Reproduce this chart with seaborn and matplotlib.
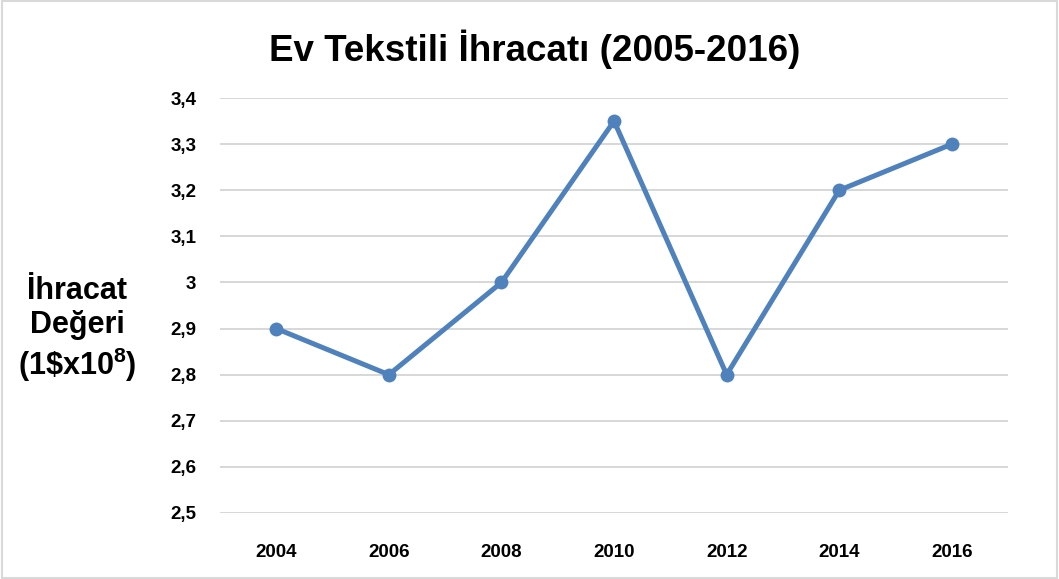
import pandas as pd
import matplotlib.pyplot as plt
import seaborn as sns
from matplotlib.patches import Rectangle
from matplotlib.ticker import FuncFormatter

# Data
years = ["2004", "2006", "2008", "2010", "2012", "2014", "2016"]
values = [2.9, 2.8, 3.0, 3.35, 2.8, 3.2, 3.3]
y_ticks = [2.5, 2.6, 2.7, 2.8, 2.9, 3.0, 3.1, 3.2, 3.3, 3.4]

df = pd.DataFrame({"year": years, "value": values})

sns.set_style("white")
plt.rcParams['font.family'] = ['Liberation Sans', 'DejaVu Sans']
plt.rcParams['mathtext.fontset'] = 'custom'
plt.rcParams['mathtext.rm'] = 'Liberation Sans:bold'
plt.rcParams['mathtext.bf'] = 'Liberation Sans:bold'
plt.rcParams['text.color'] = 'black'
plt.rcParams['xtick.color'] = 'black'
plt.rcParams['ytick.color'] = 'black'

fig = plt.figure(figsize=(10.59, 5.79), dpi=100)
ax = fig.add_axes([0.2077, 0.114, 0.7443, 0.7167])

sns.lineplot(data=df, x="year", y="value", ax=ax, color="#4F81BD",
             linewidth=3.6, marker="o", markersize=10, markeredgewidth=0)

ax.set_xlim(-0.5, len(years) - 0.5)
ax.set_ylim(2.5, 3.4)
ax.set_yticks(y_ticks)
ax.yaxis.set_major_formatter(FuncFormatter(lambda v, p: f"{v:g}".replace(".", ",")))
ax.grid(axis="y", color="#D4D4D4", linewidth=1.3)
ax.set_axisbelow(True)
for s in ax.spines.values():
    s.set_visible(False)
ax.tick_params(axis="both", length=0, labelsize=13.5)
ax.tick_params(axis="y", pad=17)
ax.tick_params(axis="x", pad=22)
for lbl in ax.get_xticklabels() + ax.get_yticklabels():
    lbl.set_fontweight("bold")
ax.set_xlabel("")
ax.set_ylabel("")

fig.text(0.505, 0.915, "Ev Tekstili İhracatı (2005-2016)", ha="center", va="center",
         fontsize=26.5, fontweight="bold")
fig.text(0.073, 0.43, "İhracat\nDeğeri\n(1\\$x10$^{\\mathbf{8}}$)", ha="center", va="center",
         fontsize=22, fontweight="bold", linespacing=1.18)

fig.patches.append(Rectangle((0.002, 0.002), 0.996, 0.996, transform=fig.transFigure,
                             fill=False, edgecolor="#D9D9D9", linewidth=1.5))

fig.savefig("out.png", dpi=100)
